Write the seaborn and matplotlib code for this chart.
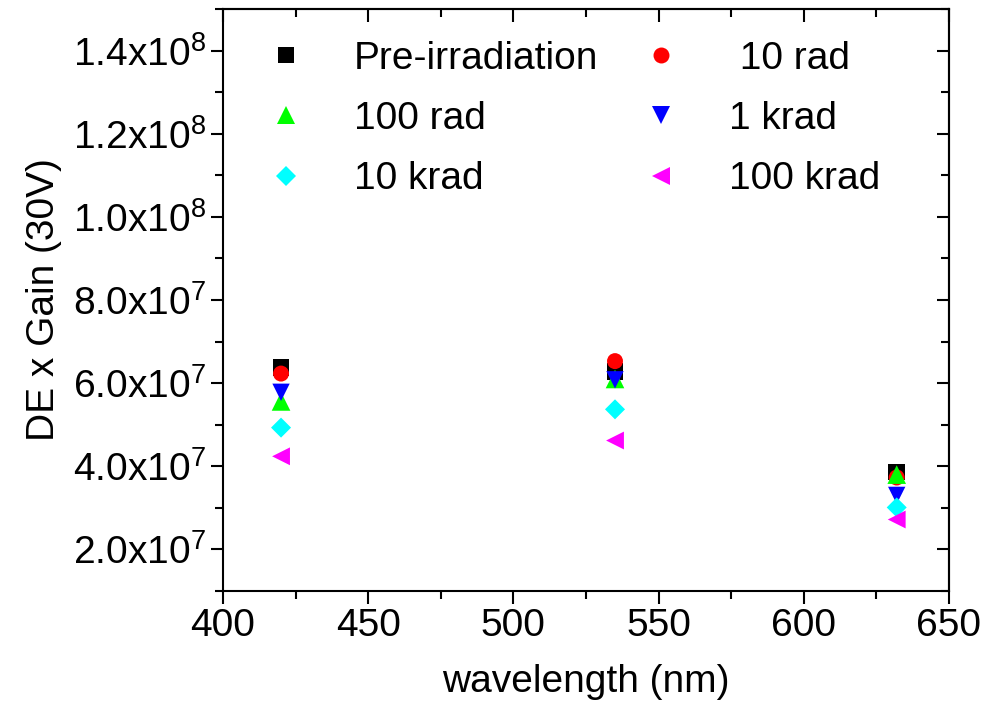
import pandas as pd
import seaborn as sns
import matplotlib.pyplot as plt
from matplotlib.ticker import MultipleLocator, FuncFormatter

# 数据
wavelength = [420, 535, 632]
series_names = ['Pre-irradiation', ' 10 rad', '100 rad', '1 krad', '10 krad', '100 krad']
pre_irr = [6.38e7, 6.28e7, 3.86e7]
rad_10 = [6.23e7, 6.53e7, 3.73e7]
rad_100 = [5.56e7, 6.10e7, 3.80e7]
krad_1 = [5.78e7, 6.08e7, 3.30e7]
krad_10 = [4.93e7, 5.37e7, 3.01e7]
krad_100 = [4.24e7, 4.62e7, 2.72e7]

values = [pre_irr, rad_10, rad_100, krad_1, krad_10, krad_100]
rows = []
for name, vals in zip(series_names, values):
    for w, v in zip(wavelength, vals):
        rows.append({'wavelength': w, 'value': v, 'dose': name})
df = pd.DataFrame(rows)

colors = ['#000000', '#ff0000', '#00ff00', '#0000ff', '#00ffff', '#ff00ff']
markers = ['s', 'o', '^', 'v', 'D', '<']
marker_area = [144, 132, 180, 156, 104, 165]
palette = dict(zip(series_names, colors))
marker_map = dict(zip(series_names, markers))
size_map = dict(zip(series_names, marker_area))

sns.set_style('ticks')
plt.rcParams['font.family'] = ['Liberation Sans', 'DejaVu Sans']
plt.rcParams['mathtext.fontset'] = 'custom'
plt.rcParams['mathtext.rm'] = 'Liberation Sans'
plt.rcParams['mathtext.it'] = 'Liberation Sans:italic'
plt.rcParams['mathtext.bf'] = 'Liberation Sans:bold'
plt.rcParams['text.color'] = 'black'
plt.rcParams['axes.labelcolor'] = 'black'
plt.rcParams['xtick.color'] = 'black'
plt.rcParams['ytick.color'] = 'black'

fig = plt.figure(figsize=(9.94, 7.01), dpi=100)
ax = fig.add_axes([0.2243, 0.1569, 0.7304, 0.8303])

sns.scatterplot(
    data=df, x='wavelength', y='value',
    hue='dose', style='dose', size='dose',
    palette=palette, markers=marker_map, sizes=size_map,
    hue_order=series_names, style_order=series_names, size_order=series_names,
    linewidth=0, alpha=1, ax=ax
)

ax.set_xlim(400, 650)
ax.set_ylim(1.0e7, 1.5e8)
ax.xaxis.set_major_locator(MultipleLocator(50))
ax.xaxis.set_minor_locator(MultipleLocator(25))
ax.yaxis.set_major_locator(MultipleLocator(2e7))
ax.yaxis.set_minor_locator(MultipleLocator(1e7))


def sci_fmt(v, pos):
    if v == 0:
        return '0'
    e = int(f'{v:e}'.split('e')[1])
    m = v / 10 ** e
    return f'{m:.1f}x10$^{{{e}}}$'


ax.yaxis.set_major_formatter(FuncFormatter(sci_fmt))
ax.tick_params(which='both', direction='out', width=1.5, labelsize=28, colors='black')
ax.tick_params(which='major', length=9)
ax.tick_params(which='minor', length=6)
for sp in ax.spines.values():
    sp.set_visible(True)
    sp.set_linewidth(1.5)
    sp.set_color('black')

# 上/右镜像刻度
top = ax.secondary_xaxis('top')
top.xaxis.set_major_locator(MultipleLocator(50))
top.xaxis.set_minor_locator(MultipleLocator(25))
top.tick_params(which='both', direction='in', width=1.5, labeltop=False)
top.tick_params(which='major', length=9)
top.tick_params(which='minor', length=6)
top.spines['top'].set_linewidth(1.5)
right = ax.secondary_yaxis('right')
right.yaxis.set_major_locator(MultipleLocator(2e7))
right.yaxis.set_minor_locator(MultipleLocator(1e7))
right.tick_params(which='both', direction='in', width=1.5, labelright=False)
right.tick_params(which='major', length=9)
right.tick_params(which='minor', length=6)
right.spines['right'].set_linewidth(1.5)

ax.set_xlabel('wavelength (nm)', fontsize=28, labelpad=14)
ax.set_ylabel('DE x Gain (30V)', fontsize=28, labelpad=8)

# 图例按行排列
handles, labels = ax.get_legend_handles_labels()
lut = dict(zip(labels, handles))
order = [0, 2, 4, 1, 3, 5]
leg_labels = [series_names[i] for i in order]
leg_handles = [lut[l] for l in leg_labels]
ax.legend(
    leg_handles, leg_labels, ncol=2, frameon=False, fontsize=28,
    loc='upper left', bbox_to_anchor=(0.06, 0.945),
    borderaxespad=0, borderpad=0, handlelength=1.0,
    handletextpad=1.25, columnspacing=1.1, labelspacing=0.62,
    markerscale=1.0
)

plt.savefig('out.png', dpi=100)
